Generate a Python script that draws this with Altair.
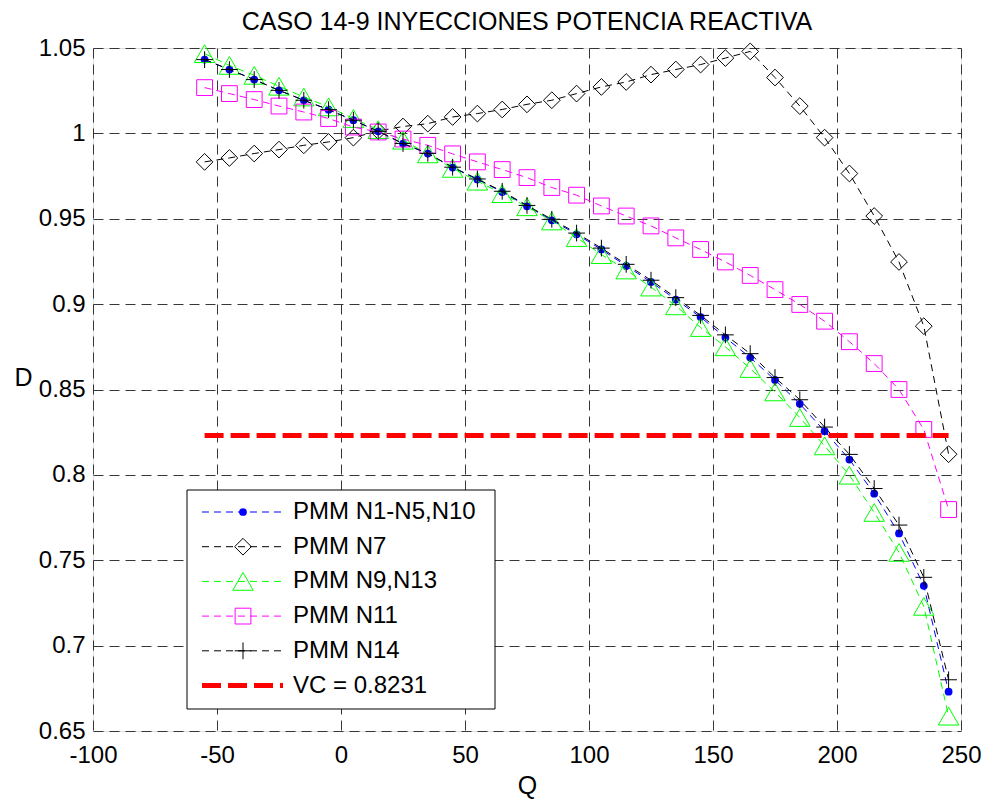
import altair as alt
import pandas as pd

# Reactive power injection Q at each bus and the resulting index D
q_values = [-55, -45, -35, -25, -15, -5, 5, 15, 25, 35, 45, 55, 65, 75, 85, 95,
            105, 115, 125, 135, 145, 155, 165, 175, 185, 195, 205, 215, 225, 235, 245]

d_n1_n5_n10 = [1.0432, 1.0374, 1.0315, 1.0252, 1.0194, 1.0139, 1.0077, 1.0012, 0.9940, 0.9882,
               0.9800, 0.9730, 0.9657, 0.9573, 0.9491, 0.9409, 0.9320, 0.9224, 0.9130, 0.9027,
               0.8924, 0.8804, 0.8687, 0.8556, 0.8416, 0.8256, 0.8090, 0.7890, 0.7657, 0.7350, 0.6730]

d_n7 = [0.9833, 0.9856, 0.9882, 0.9905, 0.9930, 0.9950, 0.9975, 1.0014, 1.0040, 1.0057,
        1.0096, 1.0116, 1.0140, 1.0170, 1.0194, 1.0233, 1.0272, 1.0301, 1.0344, 1.0374,
        1.0403, 1.0441, 1.0480, 1.0327, 1.0160, 0.9975, 0.9765, 0.9516, 0.9247, 0.8871, 0.8121]

d_n9_n13 = [1.0467, 1.0398, 1.0340, 1.0276, 1.0213, 1.0155, 1.0087, 1.0022, 0.9960, 0.9880,
            0.9795, 0.9720, 0.9647, 0.9570, 0.9487, 0.9390, 0.9290, 0.9200, 0.9100, 0.8990,
            0.8863, 0.8750, 0.8623, 0.8486, 0.8336, 0.8170, 0.7998, 0.7780, 0.7546, 0.7230, 0.6587]

d_n11 = [1.0268, 1.0233, 1.0198, 1.0160, 1.0125, 1.0087, 1.0037, 1.0008, 0.9967, 0.9930,
         0.9880, 0.9833, 0.9788, 0.9741, 0.9683, 0.9638, 0.9575, 0.9516, 0.9458, 0.9388,
         0.9320, 0.9247, 0.9168, 0.9085, 0.8998, 0.8900, 0.8780, 0.8652, 0.8500, 0.8266, 0.7797]

d_n14 = [1.0432, 1.0374, 1.0315, 1.0252, 1.0194, 1.0139, 1.0077, 1.0012, 0.9941, 0.9883,
         0.9802, 0.9733, 0.9661, 0.9578, 0.9497, 0.9416, 0.9328, 0.9233, 0.9140, 0.9038,
         0.8934, 0.8820, 0.8710, 0.8570, 0.8440, 0.8280, 0.8120, 0.7920, 0.7706, 0.7400, 0.6800]

vc_value = 0.8231
vc_q_range = [-55, 245]

x_ticks = [-100, -50, 0, 50, 100, 150, 200, 250]
y_ticks = [0.65, 0.7, 0.75, 0.8, 0.85, 0.9, 0.95, 1.0, 1.05]

title_text = "CASO 14-9 INYECCIONES POTENCIA REACTIVA"
vc_label = "VC = 0.8231"

FONT = "Liberation Sans"
PLOT_W, PLOT_H = 868, 683
SERIES_DASH = [7, 5]
PLUS_PATH = "M-1,0L1,0M0,-1L0,1"

series = [
    dict(label="PMM N1-N5,N10", values=d_n1_n5_n10, color="#0000ff",
         shape="circle", size=60, filled=True),
    dict(label="PMM N7", values=d_n7, color="#000000",
         shape="diamond", size=280, filled=False),
    dict(label="PMM N9,N13", values=d_n9_n13, color="#00ff00",
         shape="triangle-up", size=420, filled=False),
    dict(label="PMM N11", values=d_n11, color="#ff00ff",
         shape="square", size=250, filled=False),
    dict(label="PMM N14", values=d_n14, color="#000000",
         shape=PLUS_PATH, size=280, filled=False),
]

# plain hyphen minus and shortest number form for tick labels
LABEL_EXPR = "'' + datum.value"

x_enc = alt.X(
    "Q:Q",
    scale=alt.Scale(domain=[-100, 250], nice=False, zero=False),
    axis=alt.Axis(
        values=x_ticks, labelExpr=LABEL_EXPR, grid=True, ticks=False, domain=False,
        labelFlush=False, labelFontSize=24, labelFont=FONT, labelColor="#000",
        labelPadding=12,
        title="Q", titleFont=FONT, titleFontSize=25, titleFontWeight="normal",
        titleColor="#000", titleX=PLOT_W / 2, titleY=54, titleBaseline="middle",
        titleAlign="center",
        gridColor="#222", gridDash=[10, 6], gridWidth=1, gridOpacity=0.9,
    ),
)
y_enc = alt.Y(
    "D:Q",
    scale=alt.Scale(domain=[0.65, 1.05], nice=False, zero=False),
    axis=alt.Axis(
        values=y_ticks, labelExpr=LABEL_EXPR, grid=True, ticks=False, domain=False,
        labelFlush=False, labelFontSize=24, labelFont=FONT, labelColor="#000",
        labelPadding=8,
        title="D", titleFont=FONT, titleFontSize=25, titleFontWeight="normal",
        titleColor="#000", titleAngle=0, titleX=-70, titleY=329,
        titleAlign="center", titleBaseline="middle",
        gridColor="#222", gridDash=[10, 6], gridWidth=1, gridOpacity=0.9,
    ),
)

layers = []
for s in series:
    df = pd.DataFrame({"Q": q_values, "D": s["values"]})
    base = alt.Chart(df).encode(x=x_enc, y=y_enc)
    layers.append(base.mark_line(color=s["color"], strokeWidth=1, strokeDash=SERIES_DASH))
    layers.append(base.mark_point(
        shape=s["shape"], size=s["size"], color=s["color"], filled=s["filled"],
        strokeWidth=1, opacity=1,
    ))

# critical voltage threshold
vc_df = pd.DataFrame({"Q": vc_q_range, "D": [vc_value, vc_value]})
layers.append(
    alt.Chart(vc_df).mark_line(color="#ff0000", strokeWidth=5, strokeDash=[19, 7])
    .encode(x=x_enc, y=y_enc)
)

# legend box (pixel layout inside the plot area)
LEG_LEFT, LEG_RIGHT, LEG_TOP, LEG_BOTTOM = 94, 402, 442, 661
ROW_Y0, ROW_STEP = 464, 34.7
SAMPLE_X0, SAMPLE_X1, MARK_X, TEXT_X = 109, 190, 150, 200

one = pd.DataFrame({"k": [0]})
layers.append(
    alt.Chart(one).mark_rect(fill="white", stroke="black", strokeWidth=1).encode(
        x=alt.value(LEG_LEFT), x2=alt.value(LEG_RIGHT),
        y=alt.value(LEG_TOP), y2=alt.value(LEG_BOTTOM),
    )
)

legend_rows = [(s["label"], s) for s in series] + [(vc_label, None)]
for i, (label, s) in enumerate(legend_rows):
    ry = ROW_Y0 + i * ROW_STEP
    row_df = pd.DataFrame({"label": [label]})
    if s is None:
        layers.append(alt.Chart(row_df).mark_rule(
            color="#ff0000", strokeWidth=5, strokeDash=[19, 7]).encode(
            x=alt.value(SAMPLE_X0), x2=alt.value(SAMPLE_X1), y=alt.value(ry)))
    else:
        layers.append(alt.Chart(row_df).mark_rule(
            color=s["color"], strokeWidth=1, strokeDash=SERIES_DASH).encode(
            x=alt.value(SAMPLE_X0), x2=alt.value(SAMPLE_X1), y=alt.value(ry)))
        layers.append(alt.Chart(row_df).mark_point(
            shape=s["shape"], size=s["size"], color=s["color"], filled=s["filled"],
            strokeWidth=1, opacity=1).encode(x=alt.value(MARK_X), y=alt.value(ry)))
    layers.append(alt.Chart(row_df).mark_text(
        align="left", baseline="middle", font=FONT, fontSize=24, color="#000").encode(
        x=alt.value(TEXT_X), y=alt.value(ry), text="label:N"))

# chart title, centred over the plot area
title_df = pd.DataFrame({"label": [title_text]})
layers.append(alt.Chart(title_df).mark_text(
    align="center", baseline="middle", font=FONT, fontSize=25, color="#000").encode(
    x=alt.value(PLOT_W / 2), y=alt.value(-26), text="label:N"))

chart = alt.layer(*layers).properties(
    width=PLOT_W,
    height=PLOT_H,
    autosize="none",
    padding={"left": 93, "top": 48, "right": 26, "bottom": 69},
).configure_view(stroke="black", strokeWidth=1).configure(background="white")

chart.save("out.html", embed_options={"renderer": "svg", "actions": False})
